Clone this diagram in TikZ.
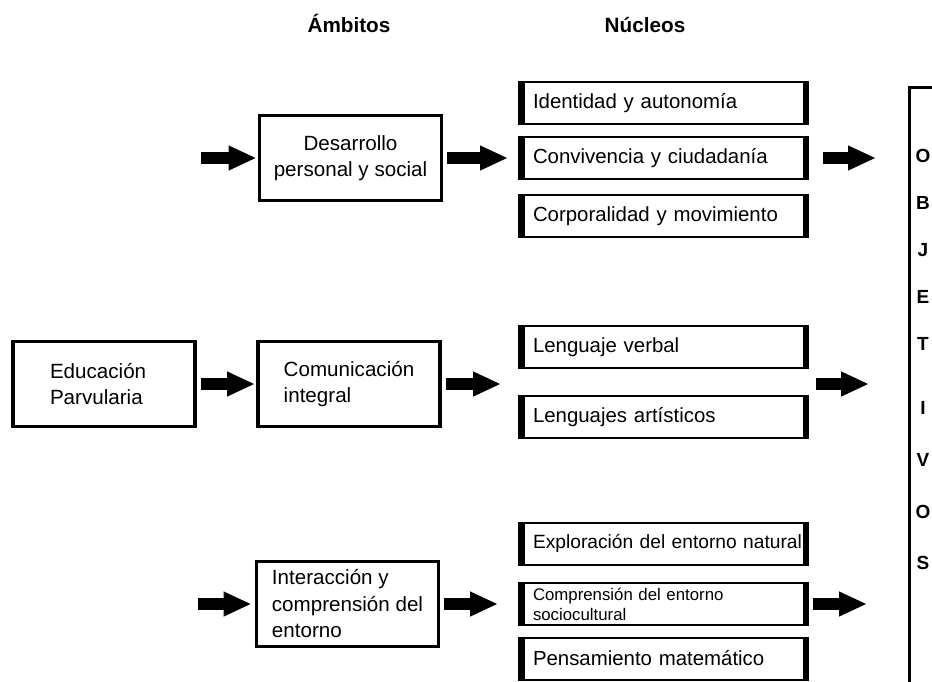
\documentclass[tikz,border=0pt]{standalone}
\usepackage{fontspec}
\setmainfont{Liberation Sans}
\usetikzlibrary{arrows.meta}
\begin{document}
\begin{tikzpicture}[x=1pt,y=-1pt,
 amb/.style={draw, line width=3.5pt, outer sep=0pt, inner sep=0pt, minimum width=182pt, minimum height=85pt, font=\fontsize{20.6}{26.5}\selectfont, align=center},
 nuc/.style={draw, line width=2pt, outer sep=0pt, inner xsep=14pt, inner ysep=0pt, text width=261pt, minimum height=42pt, align=left, anchor=west, font=\fontsize{20.4}{24}\selectfont},
 sideedge/.style={line width=6.5pt, shorten <=-1pt, shorten >=-1pt},
 blk/.style={line width=12pt, -{Triangle[length=28pt,width=23pt]}},
 ttl/.style={font=\bfseries\fontsize{20.7}{24}\selectfont, anchor=base},
 objl/.style={font=\bfseries\fontsize{19}{22}\selectfont}
]
\useasboundingbox (0,0) rectangle (932,681);
\fill[white] (0,0) rectangle (932,681);
\clip (0,0) rectangle (932,681);

\node[ttl] (tamb) at (349,32) {Ámbitos};
\node[ttl] (tnuc) at (645,32) {Núcleos};

\node[amb] (des) at (350.5,158) {Desarrollo\\personal y social};
\node[amb, align=left, inner xsep=37pt, text width=108pt] (educ) at (104,384) {Educación\\Parvularia};
\node[amb, align=left] (com) at (349,384) {Comunicación\\integral};
\node[amb, align=left] (int) at (347.5,604) {Interacción y\\comprensión del\\entorno};

\node[nuc] (n1) at (519,103) {Identidad y autonomía};
\node[nuc] (n2) at (519,158) {Convivencia y ciudadanía};
\node[nuc] (n3) at (519,216) {Corporalidad y movimiento};
\node[nuc] (n4) at (519,347) {Lenguaje verbal};
\node[nuc] (n5) at (519,417) {Lenguajes artísticos};
\node[nuc, font=\fontsize{19.2}{24}\selectfont] (n6) at (519,543.5) {\mbox{Exploración del entorno natural}};
\node[nuc, font=\fontsize{16.8}{20}\selectfont] (n7) at (519,604) {Comprensión del entorno\\sociocultural};
\node[nuc] (n8) at (519,658.5) {Pensamiento matemático};
\foreach \i in {1,...,8}{
  \draw[sideedge] ([xshift=2.25pt]n\i.north west) -- ([xshift=2.25pt]n\i.south west);
  \draw[sideedge] ([xshift=-2.25pt]n\i.north east) -- ([xshift=-2.25pt]n\i.south east);
}

\node[draw, line width=3pt, outer sep=0pt, minimum width=80pt, minimum height=640pt, anchor=north west] (obj) at (909.5,87) {};
\foreach \l/\yy [count=\i] in {O/156,B/203,J/250,E/297,T/344,I/408,V/460,O/512,S/563}
  \node[objl] (L\i) at (923,\yy) {\l};

% row 1
\coordinate (s1) at (201,158);
\draw[blk, shorten >=3pt] (s1) -- (des.west);
\draw[blk, shorten <=5pt, shorten >=11pt] (des.east) -- (n2.west);
\coordinate (e1) at (876,158);
\draw[blk, shorten <=15pt] (n2.east) -- (e1);
% row 2
\draw[blk, shorten <=6pt, shorten >=3pt] (educ.east) -- (com.west);
\coordinate (m2) at (501,384);
\draw[blk, shorten <=6pt] (com.east) -- (m2);
\coordinate (r2a) at (816,384);
\coordinate (r2b) at (869,384);
\draw[blk] (r2a) -- (r2b);
% row 3
\coordinate (s3) at (198,604);
\draw[blk, shorten >=5pt] (s3) -- (int.west);
\draw[blk, shorten <=5pt, shorten >=21pt] (int.east) -- (n7.west);
\coordinate (e3) at (867,604);
\draw[blk, shorten <=5pt] (n7.east) -- (e3);
\end{tikzpicture}
\end{document}
